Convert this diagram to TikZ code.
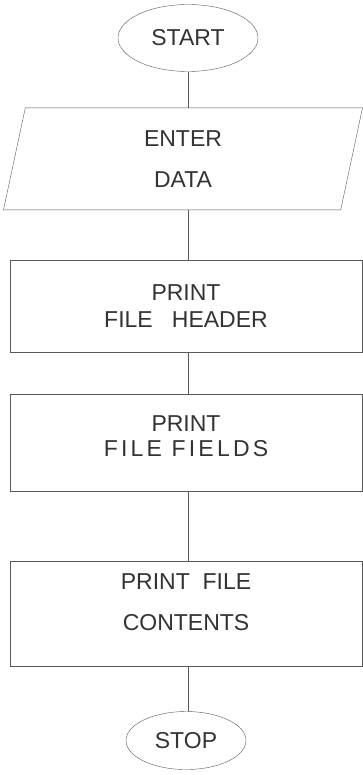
\documentclass[tikz,border=0pt]{standalone}
\usepackage{fontspec}
\setmainfont{Liberation Sans}
\newfontfamily\widefont[LetterSpace=14]{Liberation Sans}
\usetikzlibrary{positioning, shapes.geometric}

\begin{document}
\begin{tikzpicture}[
        font=\fontsize{23}{27}\selectfont,
        every node/.style={text=black!80},
        term/.style={draw=black!65, ellipse, inner sep=0pt},
        io/.style={draw=black!65, trapezium, trapezium left angle=69, trapezium right angle=111,
            trapezium stretches body, minimum width=359pt, minimum height=102pt, align=center, inner sep=0pt},
        proc/.style={draw=black!65, rectangle, minimum width=352pt, align=center, inner sep=0pt},
        link/.style={draw=black!65, line width=0.6pt}
    ]
        \useasboundingbox (0,0) rectangle (363pt,-775pt);
        % start / input
        \node[term, minimum width=140pt, minimum height=67pt] (start) at (188pt,-38pt) {START};
        \node[io, below=36pt of start, xshift=-5pt] (enter) {ENTER\\[14pt]DATA};
        % print blocks
        \node[proc, minimum height=92pt, below=50pt of enter, xshift=3pt] (header) {PRINT\\FILE\ \ \ HEADER};
        \node[proc, minimum height=97pt, below=41pt of header] (fields) {PRINT\\[-2pt]{\widefont FILE FIELDS}\\[-14pt]};
        \node[proc, minimum height=105pt, below=70pt of fields] (contents) {PRINT\ \ FILE\\[14pt]CONTENTS\\[-4pt]};
        % stop
        \node[term, minimum width=120pt, minimum height=58pt, below=45pt of contents] (stop) {STOP};

        \draw[link] (start.south) -- (start.south |- enter.north);
        \draw[link] (start.south |- enter.south) -- (start.south |- header.north);
        \draw[link] (start.south |- header.south) -- (start.south |- fields.north);
        \draw[link] (start.south |- fields.south) -- (start.south |- contents.north);
        \draw[link] (start.south |- contents.south) -- (stop.north -| start.south);
    \end{tikzpicture}
\end{document}
